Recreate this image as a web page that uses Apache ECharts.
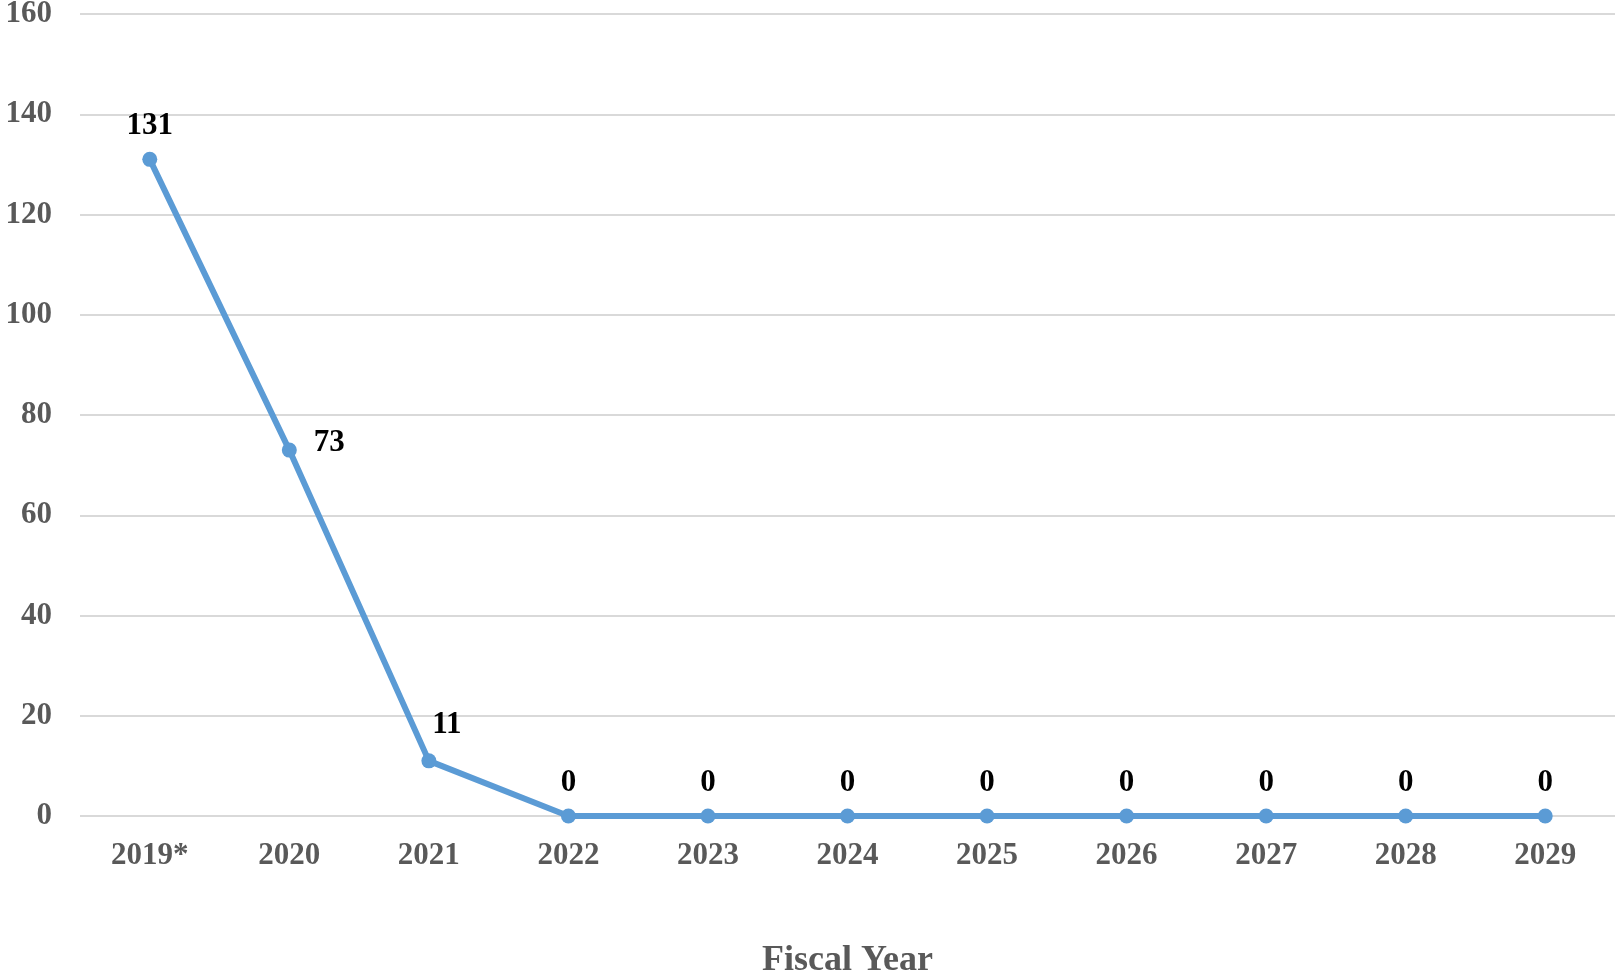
<!DOCTYPE html>
<html>
<head>
<meta charset="utf-8">
<script src="https://cdn.jsdelivr.net/npm/echarts@6/dist/echarts.min.js"></script>
<style>
  html, body { margin: 0; padding: 0; background: #ffffff; }
  #chart { width: 1615px; height: 976px; }
</style>
</head>
<body>
<div id="chart"></div>
<script>
// Fiscal years shown on the category axis
const fiscalYears = ['2019*', '2020', '2021', '2022', '2023', '2024', '2025', '2026', '2027', '2028', '2029'];
// Count for each fiscal year
const counts = [131, 73, 11, 0, 0, 0, 0, 0, 0, 0, 0];
// Value axis range
const yMin = 0, yMax = 160, yStep = 20;

const serif = '"Liberation Serif", "Times New Roman", serif';

// Label placement tweaks for the steep part of the line
const labelOverrides = {
  1: { position: 'right', distance: 17, offset: [0, -7] },
  2: { position: 'top', offset: [18, -3] }
};

const seriesData = counts.map((v, i) => {
  const item = { value: v };
  if (labelOverrides[i]) item.label = labelOverrides[i];
  return item;
});

const chart = echarts.init(document.getElementById('chart'));
chart.setOption({
  animation: false,
  backgroundColor: '#ffffff',
  grid: {
    left: 80, right: 0, top: 14, bottom: 160,
    containLabel: false,
    outerBoundsMode: 'none'
  },
  xAxis: {
    type: 'category',
    data: fiscalYears,
    boundaryGap: true,
    axisLine: { show: false },
    axisTick: { show: false },
    axisLabel: {
      margin: 24,
      color: '#595959',
      fontFamily: serif,
      fontWeight: 'bold',
      fontSize: 31
    },
    name: 'Fiscal Year',
    nameLocation: 'middle',
    nameGap: 127,
    nameTextStyle: {
      color: '#595959',
      fontFamily: serif,
      fontWeight: 'bold',
      fontSize: 36
    }
  },
  yAxis: {
    type: 'value',
    min: yMin,
    max: yMax,
    interval: yStep,
    axisLine: { show: false },
    axisTick: { show: false },
    axisLabel: {
      margin: 28,
      color: '#595959',
      fontFamily: serif,
      fontWeight: 'bold',
      fontSize: 31
    },
    splitLine: { lineStyle: { color: '#d9d9d9', width: 2 } }
  },
  series: [{
    type: 'line',
    data: seriesData,
    symbol: 'circle',
    symbolSize: 15,
    lineStyle: { color: '#5b9bd5', width: 6 },
    itemStyle: { color: '#5b9bd5' },
    label: {
      show: true,
      position: 'top',
      distance: 10,
      color: '#000000',
      fontFamily: serif,
      fontWeight: 'bold',
      fontSize: 31
    }
  }]
});
</script>
</body>
</html>
